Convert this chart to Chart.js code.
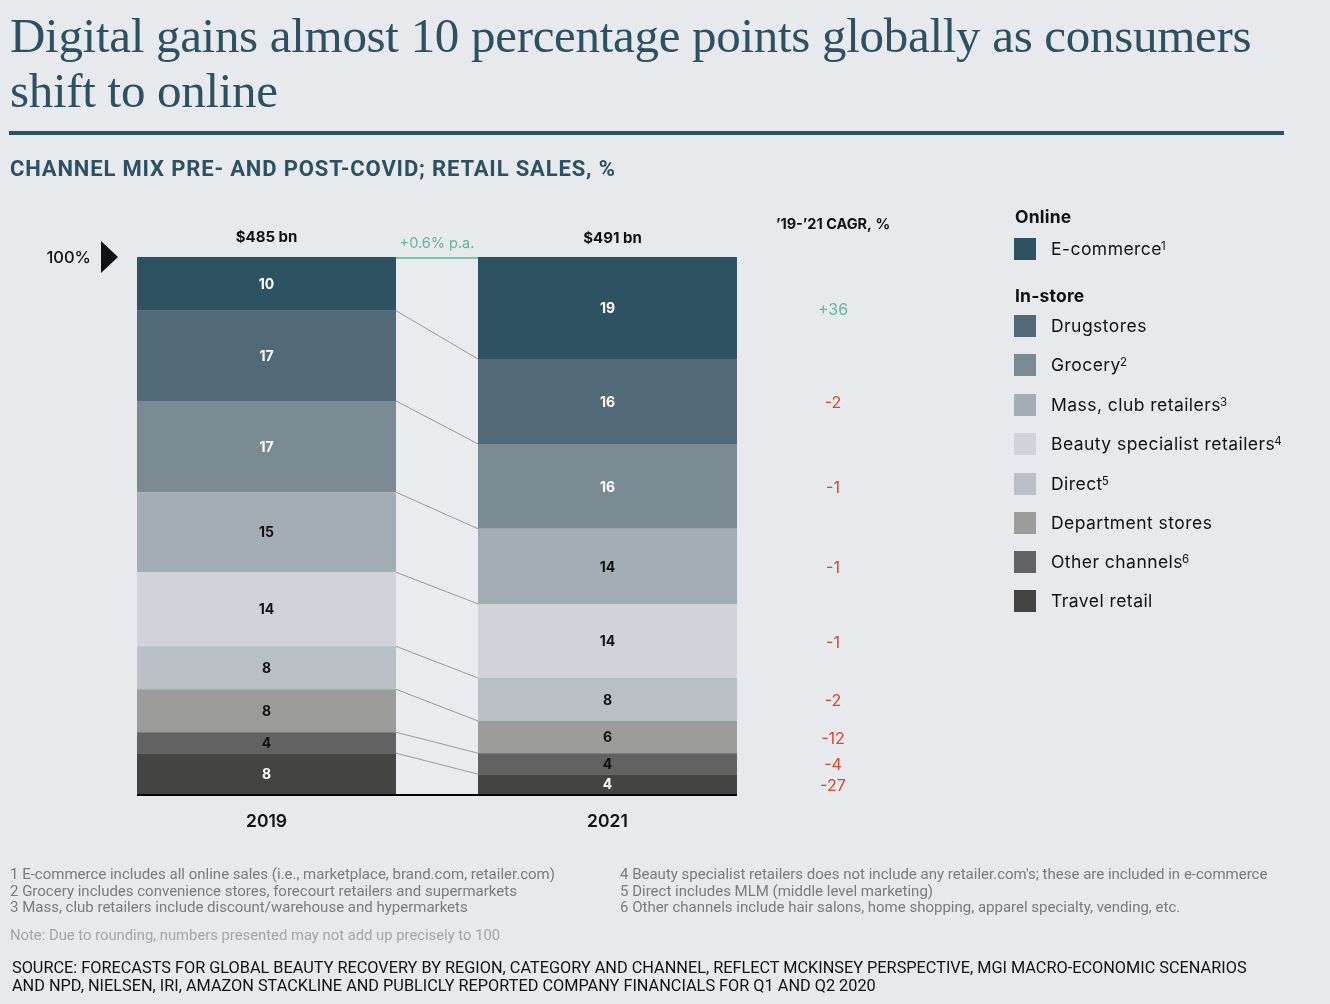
<!DOCTYPE html>
<html>
<head>
<meta charset="utf-8">
<script src="https://cdn.jsdelivr.net/npm/chart.js@4/dist/chart.umd.min.js"></script>
<style>
  html, body { margin:0; padding:0; }
  body { width:1330px; height:1004px; background:#e8e9ed; position:relative; overflow:hidden; font-family:Inter, "Open Sans", sans-serif; }
  #c { position:absolute; left:0; top:0; }
  .title { position:absolute; left:10px; top:8px; font-family:"Liberation Serif", serif; font-size:49px; line-height:55px; color:#2b5163; letter-spacing:-0.3px; }
  .rule { position:absolute; left:9px; top:131px; width:1275px; height:4px; background:#2b5163; }
  .subtitle { position:absolute; left:10px; top:156px; font-family:Roboto, sans-serif; font-weight:700; font-size:22px; color:#2b5163; letter-spacing:0.85px; }
  .legend { position:absolute; left:1014px; top:0; width:316px; height:640px; }
  .lg-head { position:absolute; left:1px; font-weight:700; font-size:17.5px; color:#111; letter-spacing:0.2px; }
  .lg-row { position:absolute; left:0; height:22px; }
  .lg-sw { position:absolute; left:0; top:0; width:22px; height:22px; }
  .lg-tx { position:absolute; left:37px; top:0px; font-size:17.5px; color:#111; white-space:nowrap; line-height:22px; letter-spacing:0.45px; }
  .lg-tx sup { font-size:11.5px; vertical-align:top; position:relative; top:-3px; margin-left:-1px; letter-spacing:0; }
  .notes { position:absolute; font-family:Roboto, sans-serif; font-size:15px; line-height:16.5px; color:#7b7b7b; white-space:nowrap; }
  .note2 { position:absolute; left:10px; top:926px; font-family:Roboto, sans-serif; font-size:14.8px; color:#a5a5a5; white-space:nowrap; }
  .source { position:absolute; left:12px; top:959px; font-family:Roboto, sans-serif; font-size:16.3px; line-height:18px; color:#111; white-space:nowrap; }
</style>
</head>
<body>
<canvas id="c" width="1330" height="1004"></canvas>
<div class="title">Digital gains almost 10 percentage points globally as consumers<br>shift to online</div>
<div class="rule"></div>
<div class="subtitle">CHANNEL MIX PRE- AND POST-COVID; RETAIL SALES, %</div>
<div class="legend" id="legend"></div>
<div class="notes" style="left:10px; top:866px;">1 E-commerce includes all online sales (i.e., marketplace, brand.com, retailer.com)<br>2 Grocery includes convenience stores, forecourt retailers and supermarkets<br>3 Mass, club retailers include discount/warehouse and hypermarkets</div>
<div class="notes" style="left:620px; top:866px;">4 Beauty specialist retailers does not include any retailer.com's; these are included in e-commerce<br>5 Direct includes MLM (middle level marketing)<br>6 Other channels include hair salons, home shopping, apparel specialty, vending, etc.</div>
<div class="note2">Note: Due to rounding, numbers presented may not add up precisely to 100</div>
<div class="source">SOURCE: FORECASTS FOR GLOBAL BEAUTY RECOVERY BY REGION, CATEGORY AND CHANNEL, REFLECT MCKINSEY PERSPECTIVE, MGI MACRO-ECONOMIC SCENARIOS<br>AND NPD, NIELSEN, IRI, AMAZON STACKLINE AND PUBLICLY REPORTED COMPANY FINANCIALS FOR Q1 AND Q2 2020</div>
<script>
// ---- data ----
const years = ["2019", "2021"];
const totals = ["$485 bn", "$491 bn"];
const growthLabel = "+0.6% p.a.";
const channels = ["E-commerce", "Drugstores", "Grocery", "Mass, club retailers", "Beauty specialist retailers", "Direct", "Department stores", "Other channels", "Travel retail"];
const channelNotes = ["1", "", "2", "3", "4", "5", "", "6", ""];
const groups = ["Online", "In-store"];
// bar heights (share of sales, %) as drawn
const share2019 = [10.0, 16.8, 17.0, 14.9, 13.8, 8.0, 8.0, 3.9, 7.6];
const share2021 = [19.0, 15.8, 15.8, 14.0, 13.8, 8.0, 6.0, 3.9, 3.7];
// printed labels
const label2019 = ["10", "17", "17", "15", "14", "8", "8", "4", "8"];
const label2021 = ["19", "16", "16", "14", "14", "8", "6", "4", "4"];
const cagr = ["+36", "-2", "-1", "-1", "-1", "-2", "-12", "-4", "-27"];
const cagrHeader = "\u201919-\u201921 CAGR, %";

// ---- styles ----
const colors = ["#2d5262", "#526a78", "#7a8a92", "#a3aeb4", "#d0d4d8", "#b8c0c6", "#9c9c9a", "#626262", "#444442"];
const labelColors = ["#ffffff", "#ffffff", "#ffffff", "#111111", "#111111", "#111111", "#111111", "#111111", "#ffffff"];
const FONT = "Inter, 'Open Sans', sans-serif";

// legend
const legend = document.getElementById('legend');
const rowTops = [238, 315, 354, 394, 433, 473, 512, 551, 590];
const headTops = [206, 285];
groups.forEach((h, i) => {
  const d = document.createElement('div'); d.className = 'lg-head'; d.style.top = headTops[i] + 'px'; d.textContent = h; legend.appendChild(d);
});
channels.forEach((c, i) => {
  const r = document.createElement('div'); r.className = 'lg-row'; r.style.top = rowTops[i] + 'px';
  r.innerHTML = '<div class="lg-sw" style="background:' + colors[i] + '"></div><div class="lg-tx">' + c + (channelNotes[i] ? '<sup>' + channelNotes[i] + '</sup>' : '') + '</div>';
  legend.appendChild(r);
});

const datasets = channels.map((c, i) => ({
  label: c,
  data: [share2019[i], share2021[i]],
  backgroundColor: colors[i],
  labelsText: [label2019[i], label2021[i]],
  labelColor: labelColors[i]
})).reverse();

const overlay = {
  id: 'overlay',
  beforeDatasetsDraw(chart) {
    const { ctx, scales: { y } } = chart;
    const m = chart.getDatasetMeta(0);
    const b0 = m.data[0], b1 = m.data[1];
    const gx0 = b0.x + b0.width / 2, gx1 = b1.x - b1.width / 2;
    const top = y.getPixelForValue(100), bot = y.getPixelForValue(0);
    ctx.save();
    ctx.fillStyle = '#eaebee';
    ctx.fillRect(gx0, top, gx1 - gx0, bot - top);
    ctx.restore();
  },
  afterDatasetsDraw(chart) {
    const { ctx, scales: { x, y } } = chart;
    const n = chart.data.datasets.length;
    const top = y.getPixelForValue(100), bot = y.getPixelForValue(0);
    const metaOf = s => chart.getDatasetMeta(n - 1 - s);
    const first = metaOf(0).data;
    const b0 = first[0], b1 = first[1];
    const gx0 = b0.x + b0.width / 2, gx1 = b1.x - b1.width / 2;
    ctx.save();
    // connector lines
    ctx.strokeStyle = '#9a9a9a'; ctx.lineWidth = 1;
    for (let s = 0; s < channels.length - 1; s++) {
      const d = metaOf(s).data;
      ctx.beginPath();
      ctx.moveTo(gx0, d[0].base);
      ctx.lineTo(gx1, d[1].base);
      ctx.stroke();
    }
    // green top line across gap
    ctx.strokeStyle = '#7cc3a8'; ctx.lineWidth = 2;
    ctx.beginPath(); ctx.moveTo(gx0, top + 1); ctx.lineTo(gx1, top + 1); ctx.stroke();
    // baseline
    ctx.strokeStyle = '#000'; ctx.lineWidth = 2;
    ctx.beginPath(); ctx.moveTo(b0.x - b0.width / 2, bot + 1); ctx.lineTo(b1.x + b1.width / 2, bot + 1); ctx.stroke();
    // segment labels
    ctx.textAlign = 'center'; ctx.textBaseline = 'middle';
    ctx.font = '700 14px ' + FONT;
    for (let s = 0; s < channels.length; s++) {
      const ds = chart.data.datasets[n - 1 - s];
      const d = metaOf(s).data;
      ctx.fillStyle = ds.labelColor;
      for (let k = 0; k < 2; k++) {
        ctx.fillText(ds.labelsText[k], d[k].x, (d[k].y + d[k].base) / 2 + 1);
      }
    }
    // totals
    ctx.fillStyle = '#111'; ctx.font = '700 15px ' + FONT;
    ctx.fillText(totals[0], b0.x, top - 20);
    ctx.fillText(totals[1], b1.x + 5, top - 19);
    // growth label
    ctx.fillStyle = '#5fb898'; ctx.font = '400 14.5px ' + FONT;
    ctx.fillText(growthLabel, (gx0 + gx1) / 2, top - 13);
    // year labels
    ctx.fillStyle = '#111'; ctx.font = '600 17.5px ' + FONT;
    ctx.fillText(years[0], x.getPixelForValue(0), bot + 28);
    ctx.fillText(years[1], x.getPixelForValue(1), bot + 28);
    // 100% marker
    ctx.font = '500 16.5px ' + FONT; ctx.textAlign = 'right';
    ctx.fillText('100%', 91, top + 1);
    ctx.beginPath(); ctx.moveTo(101, top - 16); ctx.lineTo(118, top); ctx.lineTo(101, top + 16); ctx.closePath(); ctx.fill();
    // CAGR column
    const cx = 833;
    ctx.textAlign = 'center';
    ctx.font = '700 14.5px ' + FONT; ctx.fillStyle = '#111';
    ctx.fillText(cagrHeader, cx, top - 32);
    ctx.font = '400 16px ' + FONT;
    for (let s = 0; s < channels.length; s++) {
      const d = metaOf(s).data[1];
      ctx.fillStyle = cagr[s].startsWith('+') ? '#5fb898' : '#d2472f';
      ctx.fillText(cagr[s], cx, (d.y + d.base) / 2 + 2);
    }
    ctx.restore();
  }
};

new Chart(document.getElementById('c'), {
  type: 'bar',
  data: { labels: years, datasets },
  options: {
    responsive: false,
    animation: false,
    layout: { padding: { left: 96, right: 552, top: 257, bottom: 210 } },
    datasets: { bar: { barPercentage: 1.0, categoryPercentage: 0.7595 } },
    scales: {
      x: { stacked: true, display: false },
      y: { stacked: true, display: false, min: 0, max: 100 }
    },
    plugins: { legend: { display: false }, tooltip: { enabled: false } }
  },
  plugins: [overlay]
});
</script>
</body>
</html>
